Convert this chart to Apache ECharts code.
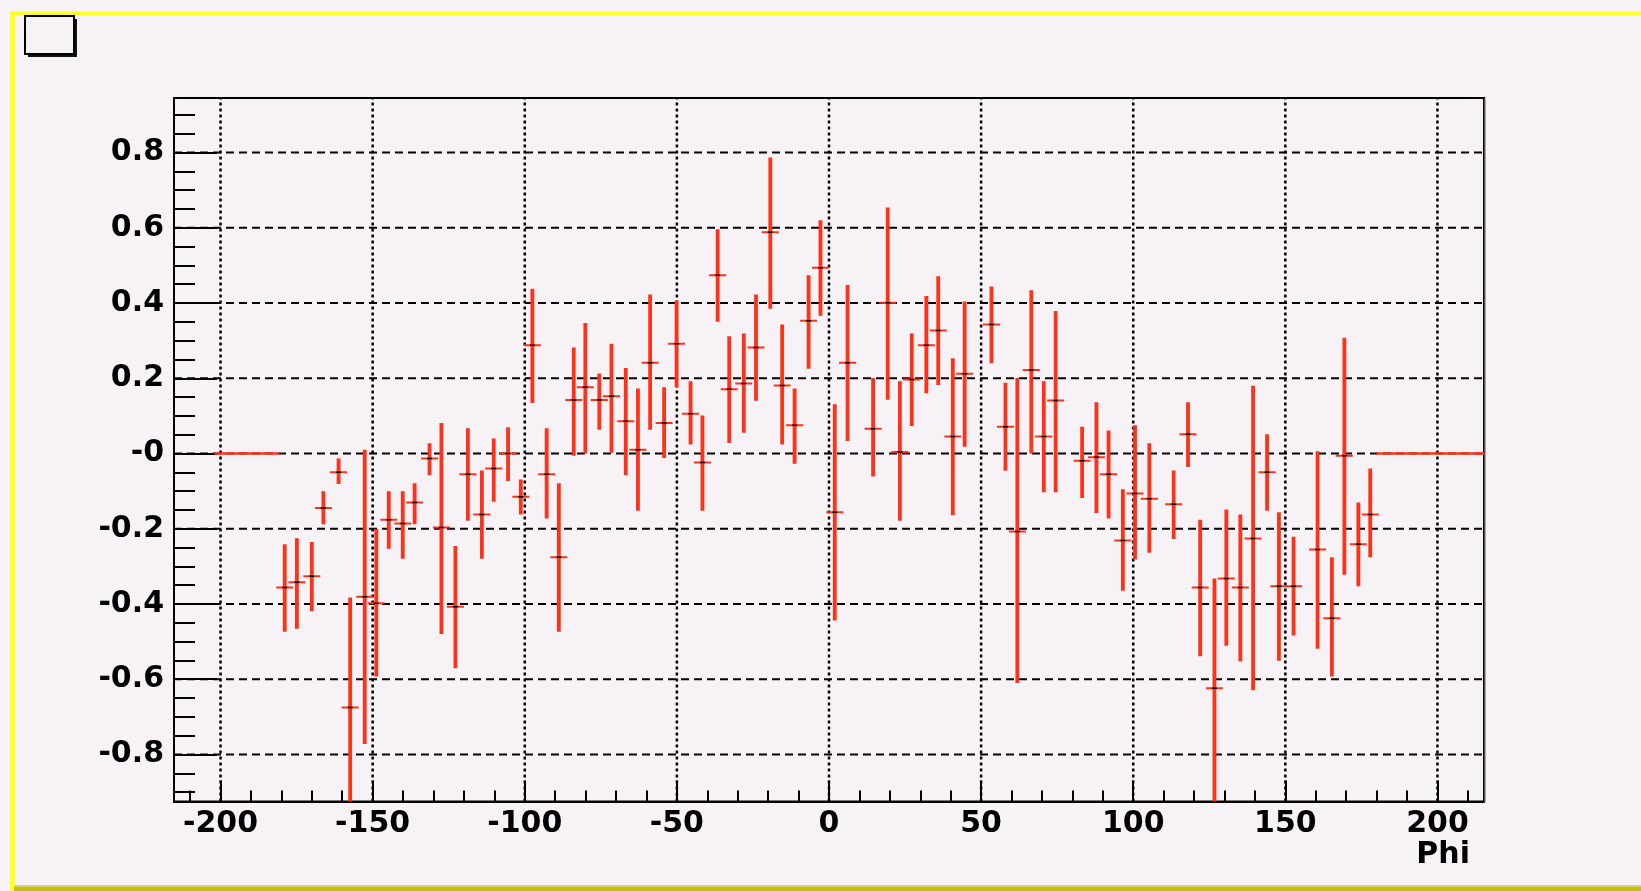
<!DOCTYPE html>
<html>
<head>
<meta charset="utf-8">
<script src="https://cdn.jsdelivr.net/npm/echarts@6.0.0/dist/echarts.min.js"></script>
<style>
  html, body { margin: 0; padding: 0; background: #f6f2f6; }
  #chart { width: 1641px; height: 891px; }
</style>
</head>
<body>
<div id="chart"></div>
<script>
// ---- data ----
const PHI = [-178.9,-174.9,-170.0,-166.2,-161.2,-157.4,-152.6,-148.8,-144.7,-140.1,-136.2,-131.3,-127.4,-122.8,-118.7,-114.1,-110.2,-105.5,-101.3,-97.5,-92.8,-88.8,-83.9,-80.1,-75.5,-71.5,-66.8,-62.8,-58.8,-54.2,-50.1,-45.5,-41.6,-36.6,-32.8,-28.0,-24.0,-19.3,-15.4,-11.3,-6.7,-2.8,1.9,6.1,14.5,19.3,23.3,27.2,32.0,35.9,40.7,44.6,53.4,58.0,61.9,66.5,70.6,74.5,83.2,87.9,91.9,96.6,100.6,105.3,113.3,118.0,122.0,126.7,130.6,135.2,139.4,144.0,147.9,152.7,160.6,165.3,169.4,174.0,177.9];
const VALUE = [-0.356,-0.342,-0.326,-0.145,-0.050,-0.675,-0.381,-0.398,-0.176,-0.186,-0.130,-0.013,-0.197,-0.407,-0.055,-0.162,-0.040,0.000,-0.115,0.288,-0.055,-0.276,0.142,0.176,0.142,0.152,0.086,0.010,0.241,0.081,0.292,0.106,-0.024,0.474,0.171,0.186,0.282,0.588,0.181,0.075,0.353,0.494,-0.156,0.241,0.066,0.401,0.004,0.197,0.288,0.327,0.045,0.212,0.343,0.071,-0.207,0.222,0.045,0.141,-0.019,-0.010,-0.055,-0.231,-0.106,-0.120,-0.135,0.051,-0.356,-0.624,-0.332,-0.356,-0.226,-0.050,-0.353,-0.353,-0.255,-0.438,-0.006,-0.241,-0.162];
const Y_HIGH = [-0.241,-0.225,-0.235,-0.100,-0.013,-0.383,0.010,-0.200,-0.100,-0.100,-0.079,0.027,0.081,-0.246,0.067,-0.045,0.040,0.070,-0.069,0.438,0.067,-0.079,0.282,0.347,0.213,0.292,0.227,0.173,0.423,0.176,0.407,0.192,0.101,0.596,0.312,0.319,0.423,0.787,0.343,0.173,0.474,0.620,0.131,0.448,0.201,0.654,0.192,0.319,0.419,0.471,0.253,0.404,0.444,0.188,0.201,0.434,0.192,0.379,0.071,0.136,0.061,-0.095,0.075,0.027,-0.045,0.136,-0.176,-0.332,-0.149,-0.162,0.180,0.051,-0.156,-0.221,0.006,-0.276,0.308,-0.130,-0.040];
const Y_LOW = [-0.474,-0.466,-0.419,-0.188,-0.081,-0.950,-0.772,-0.593,-0.253,-0.280,-0.188,-0.058,-0.480,-0.571,-0.179,-0.280,-0.128,-0.073,-0.162,0.134,-0.173,-0.474,-0.006,0.000,0.063,0.002,-0.058,-0.152,0.063,-0.012,0.176,0.024,-0.152,0.350,0.028,0.055,0.140,0.385,0.024,-0.027,0.225,0.366,-0.444,0.033,-0.061,0.143,-0.179,0.073,0.160,0.182,-0.164,0.018,0.240,-0.046,-0.610,0.000,-0.103,-0.103,-0.118,-0.158,-0.173,-0.365,-0.282,-0.264,-0.227,-0.036,-0.539,-0.930,-0.511,-0.553,-0.629,-0.152,-0.551,-0.484,-0.519,-0.593,-0.322,-0.353,-0.276];
// empty (zero-content) bin ranges drawn as flat lines at 0
const EMPTY_FROM = [-202.0, 180.0];
const EMPTY_TO   = [-180.7, 215.3];

const X_MIN = -215.3, X_MAX = 215.3;
const Y_MIN = -0.925, Y_MAX = 0.945;
const X_TICKS = [-200, -150, -100, -50, 0, 50, 100, 150, 200];
const X_TICK_LABELS = ['-200', '-150', '-100', '-50', '0', '50', '100', '150', '200'];
const X_MINOR = [-210,-190,-180,-170,-160,-140,-130,-120,-110,-90,-80,-70,-60,-40,-30,-20,-10,10,20,30,40,60,70,80,90,110,120,130,140,160,170,180,190,210];
const Y_TICKS = [-0.8, -0.6, -0.4, -0.2, 0, 0.2, 0.4, 0.6, 0.8];
const Y_TICK_LABELS = ['-0.8', '-0.6', '-0.4', '-0.2', '-0', '0.2', '0.4', '0.6', '0.8'];
const Y_MINOR = [-0.9,-0.85,-0.75,-0.7,-0.65,-0.55,-0.5,-0.45,-0.35,-0.3,-0.25,-0.15,-0.1,-0.05,0.05,0.1,0.15,0.25,0.3,0.35,0.45,0.5,0.55,0.65,0.7,0.75,0.85,0.9];
const X_TITLE = 'Phi';

// ---- chart ----
const RED = '#ff3219';
const BG = '#f6f2f6';
const FONT = 'DejaVu Sans';

function lookup(ticks, labels, v) {
  const i = ticks.findIndex(t => Math.abs(t - v) < 1e-6);
  return i >= 0 ? labels[i] : '';
}

const errData = PHI.map((x, i) => [x, VALUE[i], Y_LOW[i], Y_HIGH[i]]);
const emptyData = EMPTY_FROM.map((a, i) => [a, EMPTY_TO[i]]);

const chart = echarts.init(document.getElementById('chart'), null, { renderer: 'canvas' });

const labelStyle = { fontFamily: FONT, fontWeight: 'bold', fontSize: 30, color: '#000' };

const option = {
  backgroundColor: BG,
  animation: false,
  grid: {
    left: 174, top: 98, width: 1310, height: 703.5,
    containLabel: false,
    show: true, borderColor: '#000', borderWidth: 2, backgroundColor: 'transparent'
  },
  xAxis: [{
    type: 'value', min: X_MIN, max: X_MAX, position: 'bottom',
    axisLine: { show: true, onZero: false, lineStyle: { color: '#000', width: 2 } },
    axisTick: { show: true, inside: true, length: 21, customValues: X_TICKS, lineStyle: { color: '#000', width: 2 } },
    axisLabel: Object.assign({ customValues: X_TICKS, margin: 8, formatter: v => lookup(X_TICKS, X_TICK_LABELS, v) }, labelStyle),
    splitLine: { show: false }
  }, {
    type: 'value', min: X_MIN, max: X_MAX, position: 'bottom',
    axisLine: { show: false, onZero: false },
    axisTick: { show: true, inside: true, length: 11, customValues: X_MINOR, lineStyle: { color: '#000', width: 2 } },
    axisLabel: { show: false },
    splitLine: { show: false }
  }],
  yAxis: [{
    type: 'value', min: Y_MIN, max: Y_MAX, position: 'left',
    axisLine: { show: true, onZero: false, lineStyle: { color: '#000', width: 2 } },
    axisTick: { show: true, inside: true, length: 43, customValues: Y_TICKS, lineStyle: { color: '#000', width: 2 } },
    axisLabel: Object.assign({ customValues: Y_TICKS, margin: 10, formatter: v => lookup(Y_TICKS, Y_TICK_LABELS, v) }, labelStyle),
    splitLine: { show: false }
  }, {
    type: 'value', min: Y_MIN, max: Y_MAX, position: 'left',
    axisLine: { show: false, onZero: false },
    axisTick: { show: true, inside: true, length: 21, customValues: Y_MINOR, lineStyle: { color: '#000', width: 2 } },
    axisLabel: { show: false },
    splitLine: { show: false }
  }],
  series: [
    {
      // horizontal dashed grid lines
      type: 'custom', name: 'hgrid', z: 1, silent: true, clip: true,
      data: Y_TICKS.map(v => [v]),
      encode: { y: 0 },
      renderItem: (params, api) => {
        const v = api.value(0);
        const p1 = api.coord([X_MIN, v]);
        const p2 = api.coord([X_MAX, v]);
        return { type: 'line', shape: { x1: p1[0], y1: p1[1], x2: p2[0], y2: p2[1] },
          style: { stroke: '#000', lineWidth: 2, lineDash: [8, 5] } };
      }
    },
    {
      // vertical dotted grid lines
      type: 'custom', name: 'vgrid', z: 1, silent: true, clip: true,
      data: X_TICKS.map(v => [v]),
      encode: { x: 0 },
      renderItem: (params, api) => {
        const v = api.value(0);
        const p1 = api.coord([v, Y_MIN]);
        const p2 = api.coord([v, Y_MAX]);
        return { type: 'line', shape: { x1: p1[0], y1: p1[1], x2: p2[0], y2: p2[1] },
          style: { stroke: '#000', lineWidth: 2.5, lineDash: [3, 3] } };
      }
    },
    {
      // empty bins
      type: 'custom', name: 'empty', zlevel: 1, z: 10, silent: true, clip: true,
      data: emptyData,
      encode: { x: [0, 1] },
      renderItem: (params, api) => {
        const p1 = api.coord([api.value(0), 0]);
        const p2 = api.coord([api.value(1), 0]);
        return { type: 'line', shape: { x1: p1[0], y1: p1[1], x2: p2[0], y2: p2[1] },
          style: { stroke: RED, lineWidth: 2.6 } };
      }
    },
    {
      // data points with error bars
      type: 'custom', name: 'data', zlevel: 1, z: 10, silent: true, clip: true,
      data: errData,
      encode: { x: 0, y: [1, 2, 3] },
      renderItem: (params, api) => {
        const x = api.value(0), y = api.value(1), lo = api.value(2), hi = api.value(3);
        const c = api.coord([x, y]);
        const pLo = api.coord([x, lo]);
        const pHi = api.coord([x, hi]);
        const hw = 8.5;
        return {
          type: 'group',
          children: [
            { type: 'line', shape: { x1: c[0], y1: pHi[1], x2: c[0], y2: pLo[1] }, style: { stroke: RED, lineWidth: 3.8 } },
            { type: 'line', shape: { x1: c[0] - hw, y1: c[1], x2: c[0] + hw, y2: c[1] }, style: { stroke: RED, lineWidth: 2 } },
            { type: 'line', shape: { x1: c[0] - 2.5, y1: c[1], x2: c[0] + 2.5, y2: c[1] }, style: { stroke: '#000', lineWidth: 1.5 } }
          ]
        };
      }
    }
  ],
  graphic: [
    // canvas border (ROOT bevel)
    { type: 'rect', z: 100, shape: { x: 10, y: 11.5, width: 1631, height: 3.5 }, style: { fill: '#ffff26' }, silent: true },
    { type: 'rect', z: 100, shape: { x: 10, y: 11.5, width: 5, height: 879.5 }, style: { fill: '#ffff26' }, silent: true },
    { type: 'rect', z: 100, shape: { x: 15, y: 885, width: 1626, height: 1.5 }, style: { fill: '#c9c9c9' }, silent: true },
    { type: 'rect', z: 101, shape: { x: 14, y: 886.5, width: 1627, height: 4.5 }, style: { fill: '#c3c300' }, silent: true },
    // empty title box with shadow
    { type: 'rect', z: 100, shape: { x: 28, y: 19, width: 49, height: 38 }, style: { fill: '#111' }, silent: true },
    { type: 'rect', z: 101, shape: { x: 25, y: 16, width: 49, height: 38 }, style: { fill: BG, stroke: '#000', lineWidth: 2 }, silent: true },
    // frame shadow on the right edge
    { type: 'rect', z: 100, shape: { x: 1484, y: 98, width: 1.5, height: 704 }, style: { fill: '#555' }, silent: true },
    // x axis title
    { type: 'text', z: 100, x: 1470, y: 855, silent: true,
      style: { text: X_TITLE, fontFamily: FONT, fontWeight: 'bold', fontSize: 30, fill: '#000', align: 'right', verticalAlign: 'middle' } }
  ]
};

chart.setOption(option);
</script>
</body>
</html>
